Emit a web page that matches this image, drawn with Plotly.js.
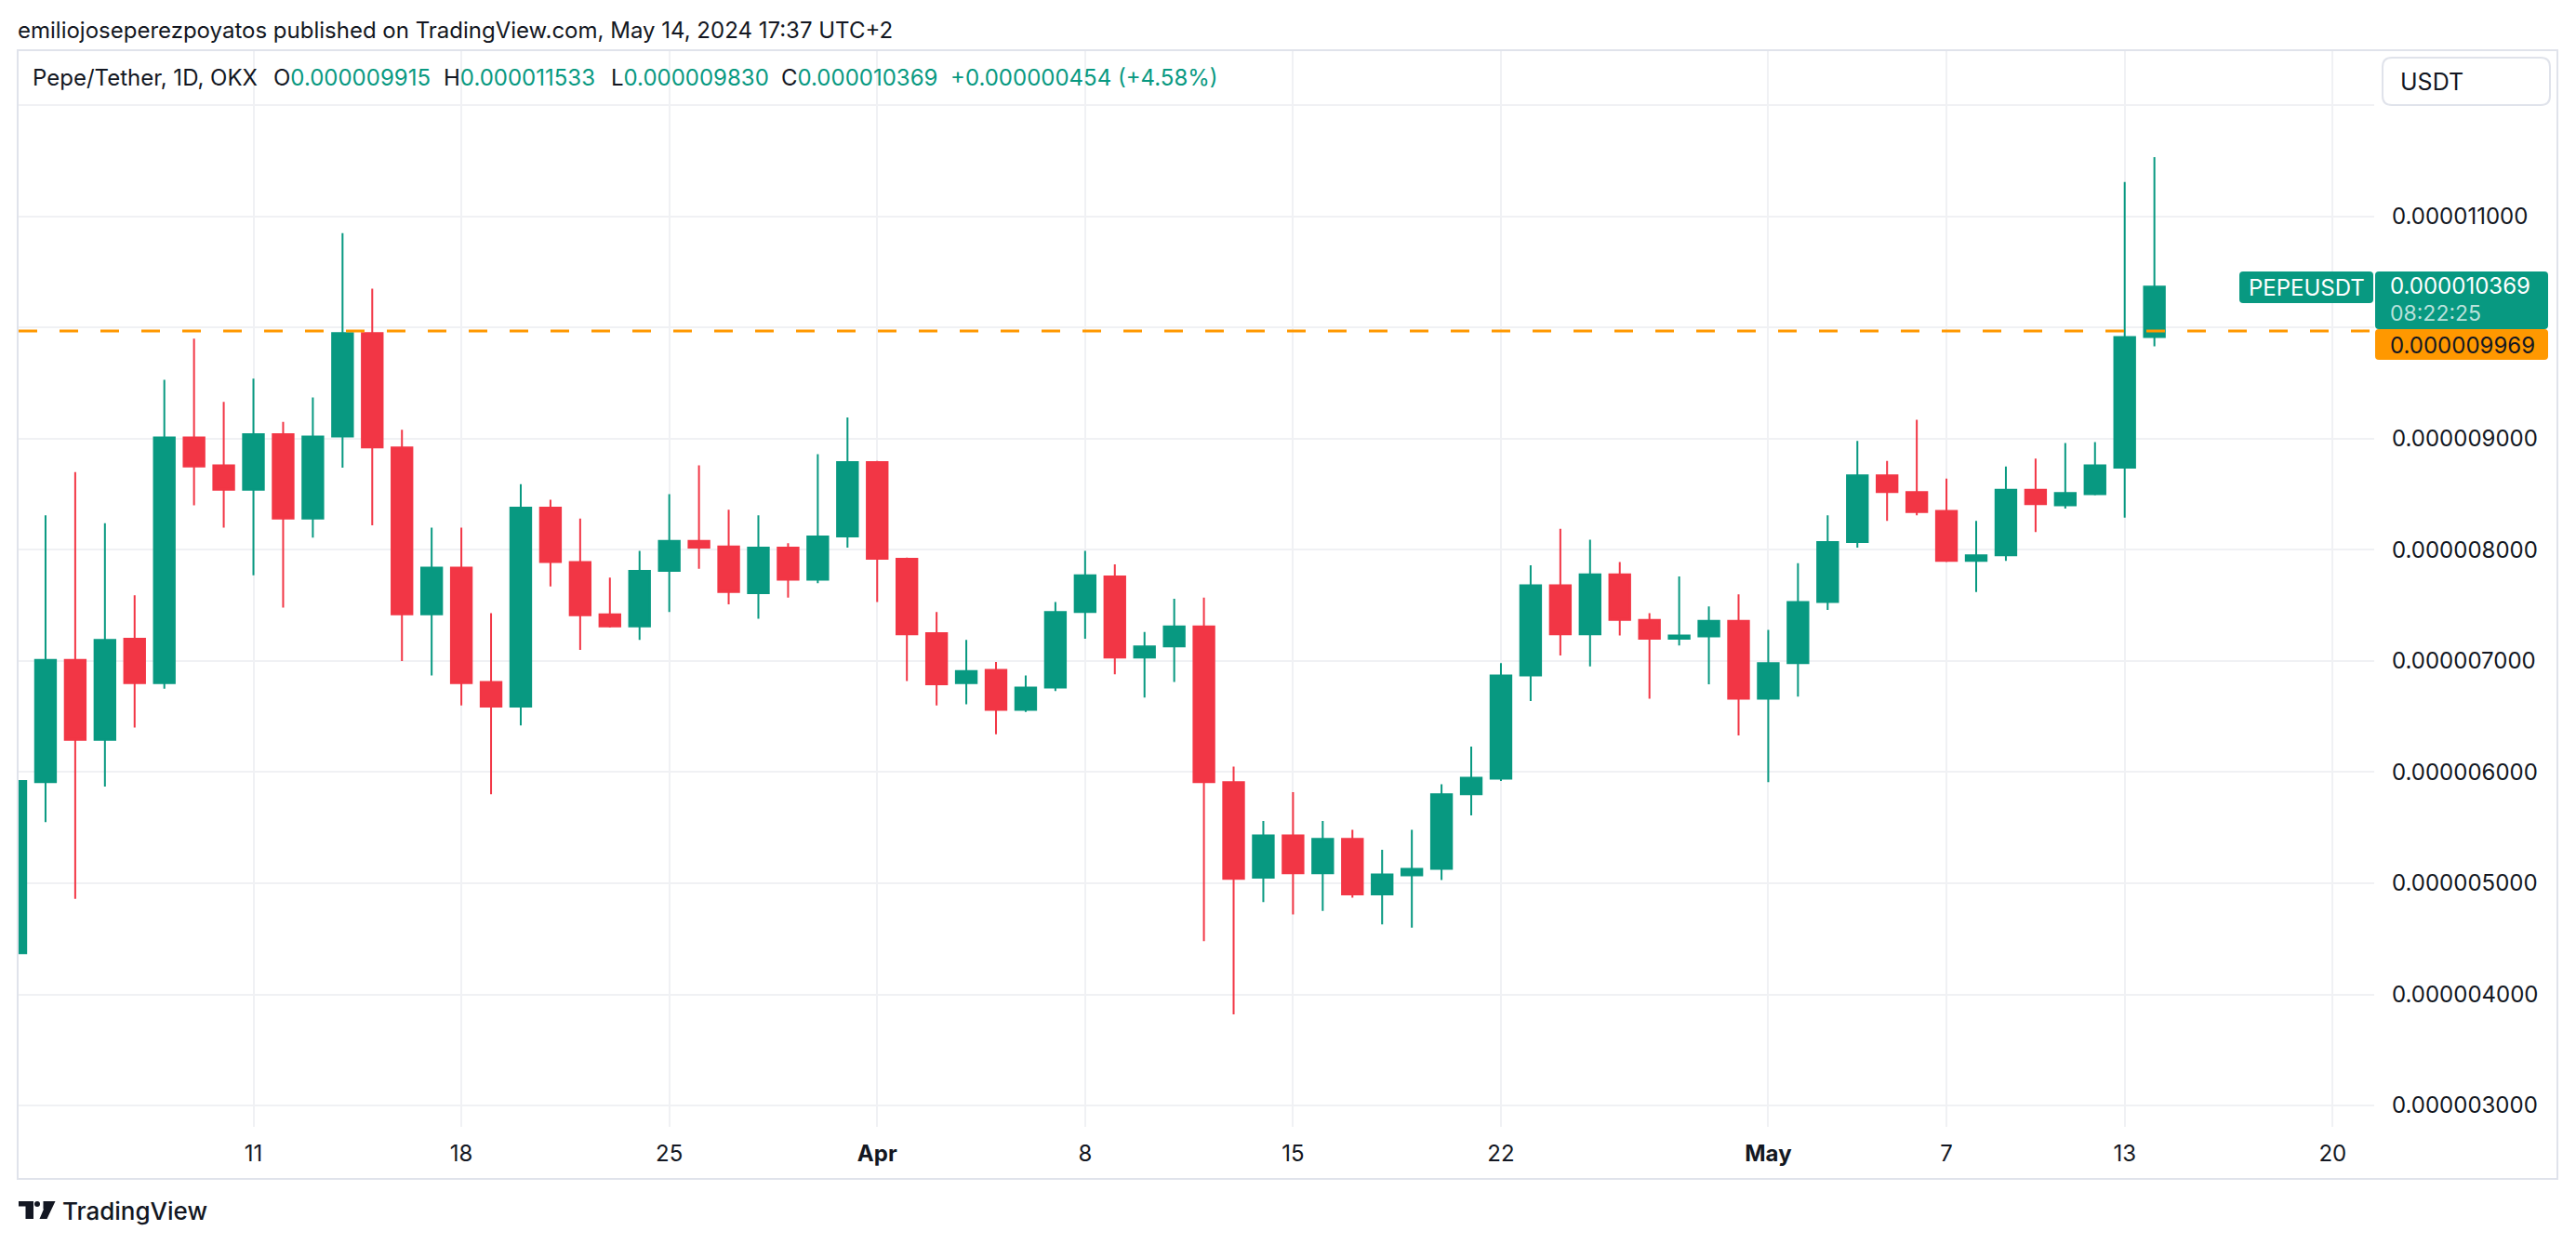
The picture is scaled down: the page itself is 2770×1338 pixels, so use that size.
<!DOCTYPE html>
<html>
<head>
<meta charset="utf-8">
<script src="https://cdn.plot.ly/plotly-3.0.1.min.js"></script>
<style>
  html, body { margin: 0; padding: 0; background: #ffffff; }
  #chart { width: 2770px; height: 1338px; }
</style>
</head>
<body>
<div id="chart"></div>
<script>
// ---------------- DATA ----------------
const dates = [
  '2024-03-03','2024-03-04','2024-03-05','2024-03-06','2024-03-07','2024-03-08','2024-03-09','2024-03-10',
  '2024-03-11','2024-03-12','2024-03-13','2024-03-14','2024-03-15','2024-03-16','2024-03-17','2024-03-18',
  '2024-03-19','2024-03-20','2024-03-21','2024-03-22','2024-03-23','2024-03-24','2024-03-25','2024-03-26',
  '2024-03-27','2024-03-28','2024-03-29','2024-03-30','2024-03-31',
  '2024-04-01','2024-04-02','2024-04-03','2024-04-04','2024-04-05','2024-04-06','2024-04-07','2024-04-08',
  '2024-04-09','2024-04-10','2024-04-11','2024-04-12','2024-04-13','2024-04-14','2024-04-15','2024-04-16',
  '2024-04-17','2024-04-18','2024-04-19','2024-04-20','2024-04-21','2024-04-22','2024-04-23','2024-04-24',
  '2024-04-25','2024-04-26','2024-04-27','2024-04-28','2024-04-29','2024-04-30',
  '2024-05-01','2024-05-02','2024-05-03','2024-05-04','2024-05-05','2024-05-06','2024-05-07','2024-05-08',
  '2024-05-09','2024-05-10','2024-05-11','2024-05-12','2024-05-13','2024-05-14'
];

const openP = [
  4.37e-6,5.91e-6,7.01e-6,6.29e-6,7.20e-6,6.80e-6,9.01e-6,8.76e-6,8.54e-6,9.04e-6,8.28e-6,9.02e-6,9.95e-6,8.92e-6,
  7.42e-6,7.84e-6,6.81e-6,6.59e-6,8.38e-6,7.89e-6,7.42e-6,7.31e-6,7.81e-6,8.08e-6,8.03e-6,7.61e-6,8.02e-6,7.73e-6,8.12e-6,
  8.79e-6,7.92e-6,7.25e-6,6.80e-6,6.92e-6,6.56e-6,6.76e-6,7.44e-6,7.76e-6,7.03e-6,7.13e-6,7.31e-6,5.91e-6,5.05e-6,
  5.43e-6,5.09e-6,5.40e-6,4.90e-6,5.07e-6,5.13e-6,5.80e-6,5.94e-6,6.87e-6,7.68e-6,7.24e-6,7.78e-6,7.37e-6,7.20e-6,
  7.22e-6,7.36e-6,
  6.66e-6,6.98e-6,7.53e-6,8.07e-6,8.67e-6,8.52e-6,8.35e-6,7.90e-6,7.95e-6,8.54e-6,8.40e-6,8.50e-6,8.74e-6,9.915e-6
];
const highP = [
  6.05e-6,8.31e-6,8.70e-6,8.24e-6,7.59e-6,9.53e-6,9.90e-6,9.33e-6,9.54e-6,9.15e-6,9.37e-6,10.85e-6,10.35e-6,9.08e-6,
  8.20e-6,8.20e-6,7.43e-6,8.59e-6,8.45e-6,8.28e-6,7.75e-6,7.99e-6,8.50e-6,8.76e-6,8.36e-6,8.31e-6,8.06e-6,8.86e-6,9.19e-6,
  8.80e-6,7.93e-6,7.44e-6,7.19e-6,6.99e-6,6.87e-6,7.53e-6,7.99e-6,7.87e-6,7.26e-6,7.56e-6,7.57e-6,6.05e-6,5.56e-6,
  5.82e-6,5.56e-6,5.48e-6,5.30e-6,5.48e-6,5.89e-6,6.23e-6,6.98e-6,7.86e-6,8.19e-6,8.09e-6,7.89e-6,7.43e-6,7.76e-6,
  7.49e-6,7.60e-6,
  7.28e-6,7.88e-6,8.31e-6,8.98e-6,8.80e-6,9.17e-6,8.64e-6,8.26e-6,8.75e-6,8.82e-6,8.96e-6,8.97e-6,11.31e-6,11.533e-6
];
const lowP = [
  4.30e-6,5.55e-6,4.86e-6,5.87e-6,6.40e-6,6.75e-6,8.40e-6,8.20e-6,7.77e-6,7.48e-6,8.11e-6,8.74e-6,8.22e-6,7.00e-6,
  6.87e-6,6.60e-6,5.80e-6,6.42e-6,7.67e-6,7.10e-6,7.30e-6,7.19e-6,7.44e-6,7.83e-6,7.51e-6,7.38e-6,7.57e-6,7.70e-6,8.02e-6,
  7.53e-6,6.82e-6,6.60e-6,6.61e-6,6.34e-6,6.54e-6,6.73e-6,7.20e-6,6.88e-6,6.67e-6,6.81e-6,4.48e-6,3.82e-6,4.83e-6,
  4.72e-6,4.75e-6,4.87e-6,4.63e-6,4.60e-6,5.03e-6,5.61e-6,5.92e-6,6.64e-6,7.05e-6,6.95e-6,7.23e-6,6.66e-6,7.14e-6,
  6.79e-6,6.33e-6,
  5.91e-6,6.68e-6,7.46e-6,8.02e-6,8.26e-6,8.31e-6,7.89e-6,7.62e-6,7.90e-6,8.16e-6,8.37e-6,8.49e-6,8.29e-6,9.830e-6
];
const closeP = [
  5.92e-6,7.01e-6,6.29e-6,7.19e-6,6.80e-6,9.01e-6,8.75e-6,8.54e-6,9.04e-6,8.28e-6,9.02e-6,9.95e-6,8.92e-6,7.42e-6,
  7.84e-6,6.80e-6,6.59e-6,8.38e-6,7.89e-6,7.41e-6,7.31e-6,7.81e-6,8.08e-6,8.02e-6,7.62e-6,8.02e-6,7.73e-6,8.12e-6,8.79e-6,
  7.92e-6,7.24e-6,6.79e-6,6.91e-6,6.56e-6,6.76e-6,7.44e-6,7.77e-6,7.03e-6,7.13e-6,7.31e-6,5.91e-6,5.04e-6,5.43e-6,
  5.09e-6,5.40e-6,4.90e-6,5.08e-6,5.13e-6,5.80e-6,5.95e-6,6.87e-6,7.68e-6,7.24e-6,7.78e-6,7.37e-6,7.20e-6,7.23e-6,
  7.36e-6,6.66e-6,
  6.98e-6,7.53e-6,8.07e-6,8.67e-6,8.52e-6,8.34e-6,7.90e-6,7.95e-6,8.54e-6,8.41e-6,8.51e-6,8.76e-6,9.915e-6,10.369e-6
];

const refLinePrice = 9.969e-6;           // orange dashed price line
const countdownText = '08:22:25';
const symbolText = 'PEPEUSDT';
const currencyText = 'USDT';
const legendTitle = 'Pepe/Tether, 1D, OKX';
const publishText = 'emiliojoseperezpoyatos published on TradingView.com, May 14, 2024 17:37 UTC+2';

const xTickDates = ['2024-03-11','2024-03-18','2024-03-25','2024-04-01','2024-04-08','2024-04-15',
                    '2024-04-22','2024-05-01','2024-05-07','2024-05-13','2024-05-20'];
const xTickText  = ['11','18','25','<b>Apr</b>','8','15','22','<b>May</b>','7','13','20'];
// 0.000010000 and 0.000012000 are hidden behind the price labels / USDT button in the reference
const yTickVals  = [3e-6,4e-6,5e-6,6e-6,7e-6,8e-6,9e-6,10e-6,11e-6,12e-6];
const yTickText  = ['0.000003000','0.000004000','0.000005000','0.000006000','0.000007000',
                    '0.000008000','0.000009000','','0.000011000',''];

// ---------------- LAYOUT HELPERS ----------------
const W = 2770, H = 1338;
const PL = 20, PR = 2553, PT = 54, PB = 1212;
const GREEN = '#089981', RED = '#F23645', ORANGE = '#FF9800', INK = '#131722';
const FONT = 'Inter, "Noto Sans", Roboto, sans-serif';
const px = x => (x - PL) / (PR - PL);
const py = y => (PB - y) / (PB - PT);

function roundRect(x0, y0, x1, y1, r) {
  const P = (x, y) => px(x) + ',' + py(y);
  return 'M' + P(x0 + r, y0) + ' L' + P(x1 - r, y0) + ' Q' + P(x1, y0) + ' ' + P(x1, y0 + r) +
         ' L' + P(x1, y1 - r) + ' Q' + P(x1, y1) + ' ' + P(x1 - r, y1) +
         ' L' + P(x0 + r, y1) + ' Q' + P(x0, y1) + ' ' + P(x0, y1 - r) +
         ' L' + P(x0, y0 + r) + ' Q' + P(x0, y0) + ' ' + P(x0 + r, y0) + ' Z';
}
function poly(pts) {
  return 'M' + pts.map(p => px(p[0]) + ',' + py(p[1])).join(' L') + ' Z';
}

const n = closeP.length;
const fmt = v => v.toFixed(9);
const lastO = openP[n - 1], lastH = highP[n - 1], lastL = lowP[n - 1], lastC = closeP[n - 1];
const chg = lastC - closeP[n - 2];
const chgPct = chg / closeP[n - 2] * 100;
const g = s => '<span style="color:' + GREEN + '">' + s + '</span>';

// ---------------- TRACE ----------------
const trace = {
  type: 'candlestick',
  x: dates, open: openP, high: highP, low: lowP, close: closeP,
  increasing: { line: { color: GREEN, width: 2 }, fillcolor: GREEN },
  decreasing: { line: { color: RED, width: 2 }, fillcolor: RED },
  whiskerwidth: 0,
  hoverinfo: 'skip'
};

const annFont = (size, color, weight) => ({ family: FONT, size: size, color: color, weight: weight || 400 });
const ann = (x, y, text, size, color, anchor, weight, h) => {
  const a = {
    xref: 'paper', yref: 'paper', x: px(x), y: py(y), text: text, showarrow: false,
    xanchor: anchor || 'left', yanchor: 'middle', font: annFont(size, color, weight), borderpad: 0
  };
  if (h) { a.height = h; a.valign = 'middle'; }
  return a;
};

const annotations = [
  ann(18, 33, publishText, 24, INK),
  ann(34, 83, legendTitle, 24, INK),
  ann(293, 83, 'O' + g(fmt(lastO)), 24, INK),
  ann(476, 83, 'H' + g(fmt(lastH)), 24, INK),
  ann(656, 83, 'L' + g(fmt(lastL)), 24, INK),
  ann(839, 83, 'C' + g(fmt(lastC)), 24, INK),
  ann(1021, 83, g((chg >= 0 ? '+' : '') + fmt(chg) + ' (' + (chg >= 0 ? '+' : '') + chgPct.toFixed(2) + '%)'), 24, INK),
  ann(2580, 88, currencyText, 25, INK),
  ann(2569, 307, fmt(lastC), 24, '#ffffff', 'left', 400, 26),
  ann(2569, 337, countdownText, 23, 'rgba(255,255,255,0.72)', 'left', 400, 26),
  ann(2569, 371, fmt(refLinePrice), 24, INK, 'left', 400, 26),
  ann(2480, 309, symbolText, 24, '#ffffff', 'center'),
  ann(66, 1302, 'TradingView', 26, INK, 'left', 500)
];

const shapes = [
  // orange dashed price line
  { type: 'line', xref: 'paper', yref: 'y', x0: 0, x1: 1, y0: refLinePrice, y1: refLinePrice,
    line: { color: ORANGE, width: 3, dash: '20px,24px' }, layer: 'above' },
  // outer frame
  { type: 'rect', xref: 'paper', yref: 'paper', x0: px(19), x1: px(2750), y0: py(1268), y1: py(54),
    line: { color: '#E0E3EB', width: 2 }, fillcolor: 'rgba(0,0,0,0)', layer: 'above' },
  // USDT button
  { type: 'path', xref: 'paper', yref: 'paper', path: roundRect(2562, 62, 2742, 113, 10),
    line: { color: '#E0E3EB', width: 2 }, fillcolor: '#ffffff', layer: 'above' },
  // last price label (green)
  { type: 'path', xref: 'paper', yref: 'paper', path: roundRect(2554, 292, 2740, 354, 4),
    line: { width: 0 }, fillcolor: GREEN, layer: 'above' },
  // orange price label
  { type: 'path', xref: 'paper', yref: 'paper', path: roundRect(2554, 354, 2740, 387, 4),
    line: { width: 0 }, fillcolor: ORANGE, layer: 'above' },
  // symbol label
  { type: 'path', xref: 'paper', yref: 'paper', path: roundRect(2408, 292, 2552, 326, 4),
    line: { width: 0 }, fillcolor: GREEN, layer: 'above' },
  // TradingView logo
  { type: 'path', xref: 'paper', yref: 'paper',
    path: poly([[20,1292],[36,1292],[36,1311],[27.5,1311],[27.5,1297.5],[20,1297.5]]),
    line: { width: 0 }, fillcolor: INK, layer: 'above' },
  { type: 'circle', xref: 'paper', yref: 'paper', x0: px(37), x1: px(43), y0: py(1298), y1: py(1292),
    line: { width: 0 }, fillcolor: INK, layer: 'above' },
  { type: 'path', xref: 'paper', yref: 'paper',
    path: poly([[46.5,1292],[59.5,1292],[50.5,1311],[42.5,1311],[47,1300.5],[46.5,1300.5]]),
    line: { width: 0 }, fillcolor: INK, layer: 'above' }
];

const layout = {
  width: W, height: H,
  margin: { l: PL, r: W - PR, t: PT, b: H - PB, pad: 0 },
  paper_bgcolor: '#ffffff', plot_bgcolor: '#ffffff',
  showlegend: false, hovermode: false,
  boxgap: 0.3, boxgroupgap: 0,
  font: { family: FONT, size: 24, color: INK },
  xaxis: {
    type: 'date', range: ['2024-03-03 02:15', '2024-05-21 09:36'],
    tickmode: 'array', tickvals: xTickDates, ticktext: xTickText,
    showgrid: true, gridcolor: '#F0F1F4', gridwidth: 2,
    zeroline: false, showline: false, ticks: '', ticklabelstandoff: 12,
    rangeslider: { visible: false }, fixedrange: true,
    tickfont: { family: FONT, size: 24, color: INK }
  },
  yaxis: {
    side: 'right', range: [2.808e-6, 12.495e-6],
    tickmode: 'array', tickvals: yTickVals, ticktext: yTickText,
    showgrid: true, gridcolor: '#F0F1F4', gridwidth: 2,
    zeroline: false, showline: false, ticks: '', ticklabelstandoff: 18,
    fixedrange: true,
    tickfont: { family: FONT, size: 24, color: INK }
  },
  shapes: shapes,
  annotations: annotations
};

Plotly.newPlot('chart', [trace], layout, { displayModeBar: false, staticPlot: true });
</script>
</body>
</html>
